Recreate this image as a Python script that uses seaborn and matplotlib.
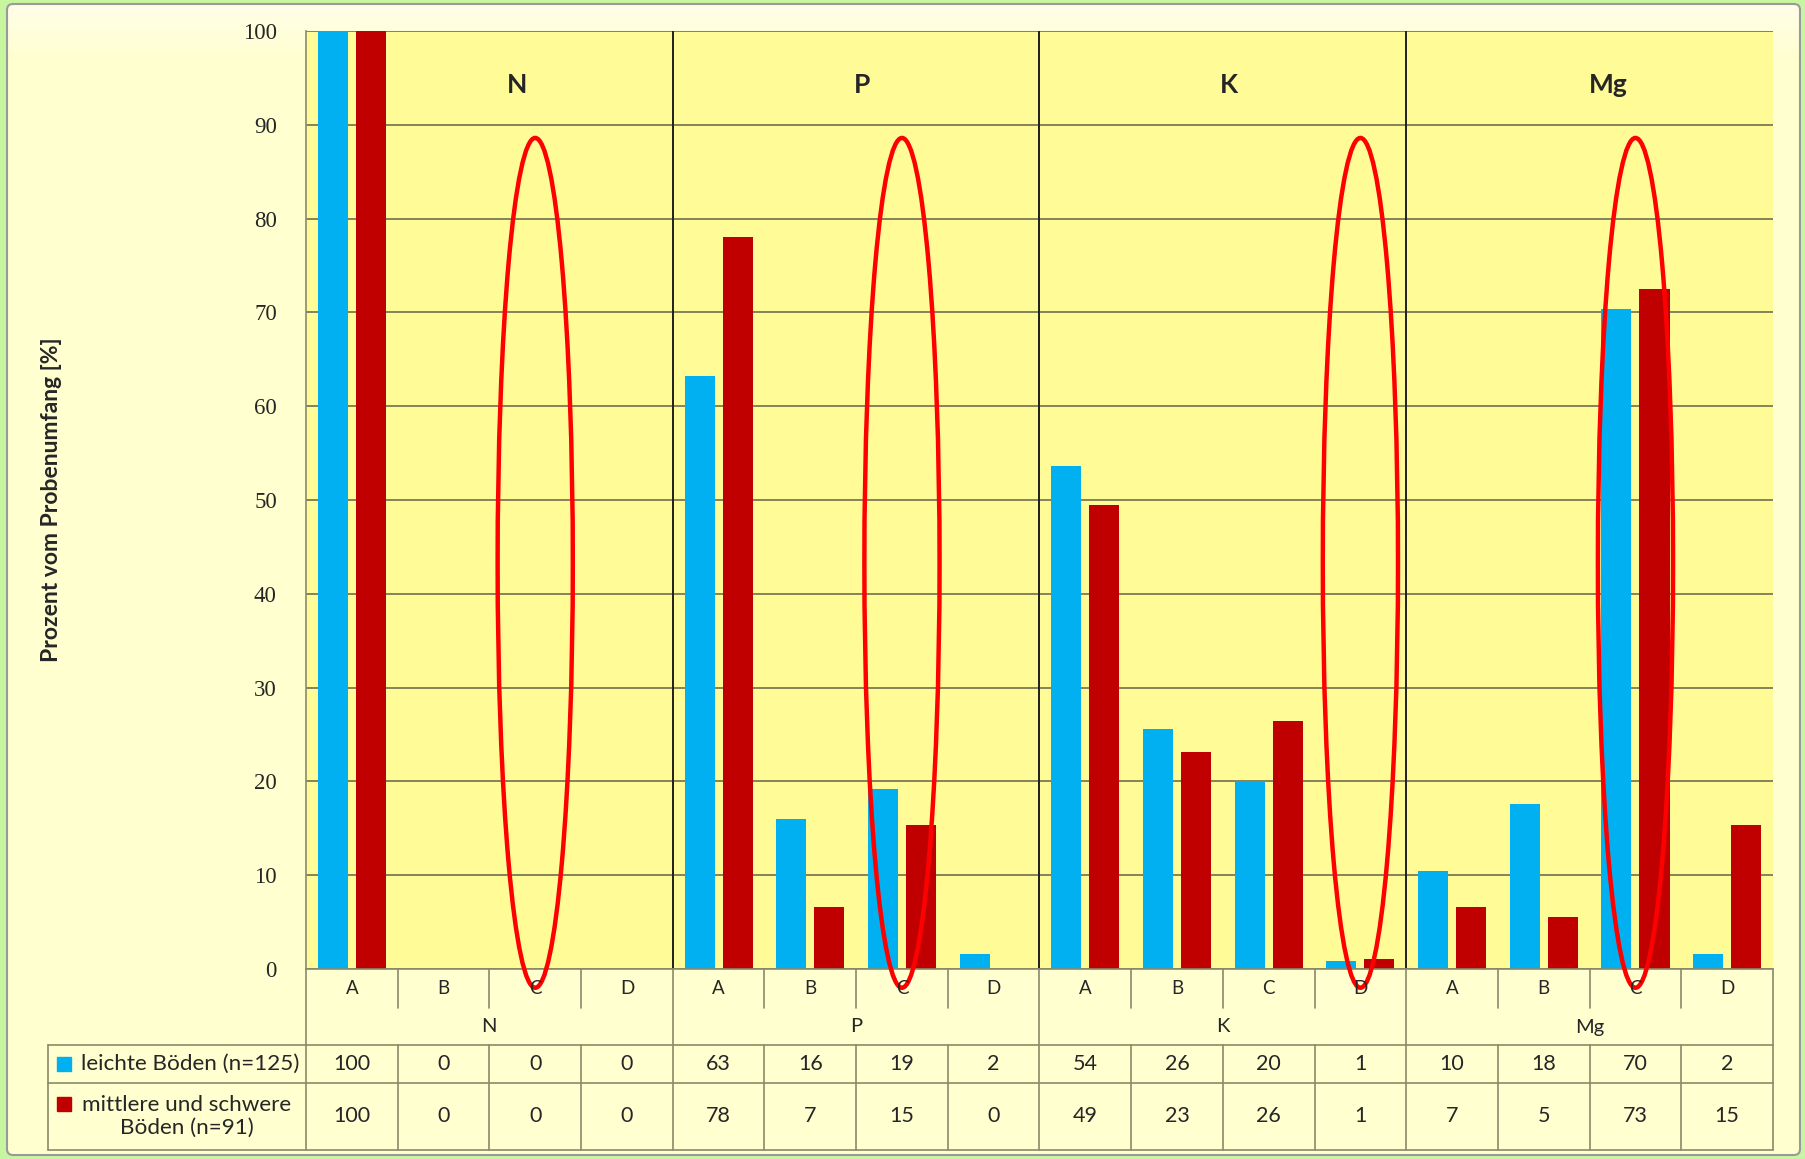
import numpy as np
import pandas as pd
import matplotlib
matplotlib.use("Agg")
import matplotlib.pyplot as plt
from matplotlib.patches import Ellipse, FancyBboxPatch, Rectangle
import seaborn as sns

# --- Data ---
nutrients = ["N", "P", "K", "Mg"]
classes = ["A", "B", "C", "D"]
series = ["leichte Böden (n=125)", "mittlere und schwere\nBöden (n=91)"]

# bar heights (percent of samples)
light_pct = [100, 0, 0, 0, 63.2, 16.0, 19.2, 1.6, 53.6, 25.6, 20.0, 0.8, 10.4, 17.6, 70.4, 1.6]
heavy_pct = [100, 0, 0, 0, 78.0, 6.6, 15.4, 0, 49.5, 23.1, 26.4, 1.1, 6.6, 5.5, 72.5, 15.4]

# rounded values printed in the data table
light_tab = [100, 0, 0, 0, 63, 16, 19, 2, 54, 26, 20, 1, 10, 18, 70, 2]
heavy_tab = [100, 0, 0, 0, 78, 7, 15, 0, 49, 23, 26, 1, 7, 5, 73, 15]

# categories circled in red
marked = ["N-C", "P-C", "K-D", "Mg-C"]

# --- Style ---
sns.set_style("white")
plt.rcParams['font.family'] = ['Lato', 'DejaVu Sans']

BLUE, RED = "#00b0f0", "#c00000"
CREAM, YELLOW, GREEN = "#ffffd0", "#fffc98", "#c8f5a0"
LINE = "#8a8a6a"

W, H = 1806, 1159
PL, PR, PT, PB = 306, 1773, 31, 969   # plot box in pixels
TL, TB = 48, 1150                     # table left / bottom

keys = [f"{n}-{c}" for n in nutrients for c in classes]
df = pd.DataFrame({
    "key": keys * 2,
    "pct": light_pct + heavy_pct,
    "serie": [series[0]] * len(keys) + [series[1]] * len(keys),
})

fig = plt.figure(figsize=(W / 100, H / 100), dpi=100)
fig.patch.set_facecolor(GREEN)

# --- Background frame with a soft light top ---
bg = fig.add_axes([0, 0, 1, 1])
bg.set_xlim(0, W)
bg.set_ylim(H, 0)
bg.axis("off")
box = dict(boxstyle="round,pad=0,rounding_size=6")
frame = FancyBboxPatch((7, 4), W - 13, H - 8, facecolor=CREAM,
                       edgecolor="none", zorder=0, **box)
bg.add_patch(frame)
fade = np.clip(np.linspace(0, 1, 200) / 0.35, 0, 1)[:, None, None]
top_rgb = np.array([1.0, 0.995, 0.91])
base_rgb = np.array([1.0, 1.0, 0.816])
grad = top_rgb * (1 - fade) + base_rgb * fade
im = bg.imshow(grad, extent=(7, W - 6, 160, 4), aspect="auto", zorder=1)
im.set_clip_path(frame)
bg.add_patch(FancyBboxPatch((7, 4), W - 13, H - 8, facecolor="none",
                            edgecolor="#9a9a9a", linewidth=1.5, zorder=2, **box))

# --- Bars ---
ax = fig.add_axes([PL / W, 1 - PB / H, (PR - PL) / W, (PB - PT) / H])
sns.barplot(data=df, x="key", y="pct", hue="serie", order=keys, hue_order=series,
            palette=[BLUE, RED], saturation=1, width=0.83, gap=0.21,
            linewidth=0, errorbar=None, legend=False, ax=ax)
ax.set_facecolor(YELLOW)
ax.set_xlim(-0.5, len(keys) - 0.5)
ax.set_ylim(0, 100)
ax.set_yticks(np.arange(0, 101, 10))
ax.set_xticks([])
ax.set_xlabel("")
ax.set_ylabel("")
ax.yaxis.grid(True, color="#6e6e50", linewidth=1.2)
ax.set_axisbelow(True)
ax.tick_params(axis="y", length=0, pad=21, labelsize=16.5)
for lab in ax.get_yticklabels():
    lab.set_fontfamily("Liberation Serif")
for side in ["top", "right"]:
    ax.spines[side].set_visible(False)
ax.spines["left"].set_color(LINE)
ax.spines["bottom"].set_color(LINE)
ax.spines["left"].set_linewidth(1.2)
ax.spines["bottom"].set_linewidth(1.2)

# group separators and titles
title_shift = [0.3, 0.06, 0.07, 0.2]
for g, name in enumerate(nutrients):
    if g > 0:
        ax.axvline(4 * g - 0.5, color="#202020", linewidth=1.4)
    ax.text(4 * g + 1.5 + title_shift[g], 94.2, name, ha="center", va="center",
            fontsize=19, fontweight="bold")

# red ellipses
for m in marked:
    ax.add_patch(Ellipse((keys.index(m), 43.3), width=0.82, height=90.6,
                         fill=False, edgecolor="#ff0000", linewidth=3.2,
                         clip_on=False, zorder=5))

fig.text(52 / W, 1 - 500 / H, "Prozent vom Probenumfang [%]", rotation=90,
         ha="center", va="center", fontsize=16.5, fontweight="bold")

# --- Data table below the axis ---
unit = (PR - PL) / len(keys)


def tx(px):
    return -0.5 + (px - PL) / unit


tab = fig.add_axes([TL / W, 1 - TB / H, (PR - TL) / W, (TB - PB) / H])
tab.set_xlim(tx(TL), len(keys) - 0.5)
tab.set_ylim(TB - PB, 0)
tab.axis("off")

r1, r2, r3 = 76, 114, TB - PB
xl, xr = tx(TL), len(keys) - 0.5
for y in [r1, r2, r3]:
    tab.plot([xl, xr], [y, y], color=LINE, linewidth=1.2, clip_on=False)
tab.plot([xl, xl], [r1, r3], color=LINE, linewidth=1.2, clip_on=False)
for k in range(len(keys) + 1):
    x = k - 0.5
    if k % 4 == 0:
        tab.plot([x, x], [0, r3], color=LINE, linewidth=1.2, clip_on=False)
    else:
        tab.plot([x, x], [0, 39], color=LINE, linewidth=1.2, clip_on=False)
        tab.plot([x, x], [r1, r3], color=LINE, linewidth=1.2, clip_on=False)

for k, key in enumerate(keys):
    tab.text(k, 19, key.split("-")[1], ha="center", va="center", fontsize=13.5)
    tab.text(k, (r1 + r2) / 2, str(light_tab[k]), ha="center", va="center", fontsize=15.5)
    tab.text(k, (r2 + r3) / 2, str(heavy_tab[k]), ha="center", va="center", fontsize=15.5)
for g, name in enumerate(nutrients):
    tab.text(4 * g + 1.5, 58, name, ha="center", va="center", fontsize=14.5)

# legend keys
sq = 14 / unit
tab.add_patch(Rectangle((tx(57), (r1 + r2) / 2 - 7), sq, 14, color=BLUE))
tab.add_patch(Rectangle((tx(57), 135 - 7), sq, 14, color=RED))
tab.text(tx(190), (r1 + r2) / 2, series[0], ha="center", va="center", fontsize=16.2)
tab.text(tx(187), (r2 + r3) / 2, series[1], ha="center", va="center",
         multialignment="center", fontsize=16.2, linespacing=1.2)

plt.savefig("out.png", dpi=100, facecolor=fig.get_facecolor())
